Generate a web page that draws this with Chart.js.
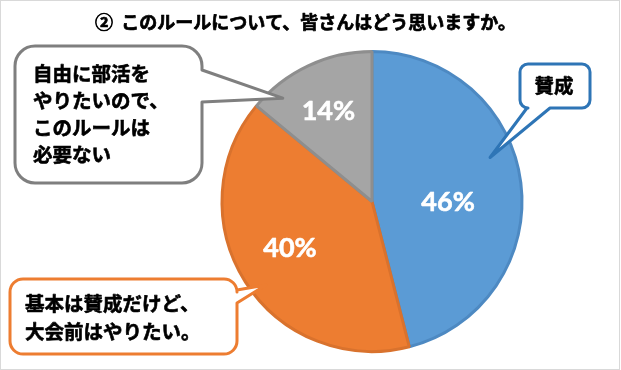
<!DOCTYPE html>
<html lang="ja">
<head>
<meta charset="utf-8">
<script src="https://cdn.jsdelivr.net/npm/chart.js@4"></script>
<style>
    html, body { margin: 0; padding: 0; background: #fff; }
    #wrap { width: 621px; height: 370px; }
</style>
</head>
<body>
<div id="wrap"><canvas id="pieChart" width="621" height="370"></canvas></div>
<script>
// データ
const title = '②  このルールについて、皆さんはどう思いますか。';
const categories = ['賛成', '基本は賛成だけど、大会前はやりたい。', '自由に部活をやりたいので、このルールは必要ない'];
const values = [46, 40, 14];
const calloutLines = [
    ['賛成'],
    ['基本は賛成だけど、', '大会前はやりたい。'],
    ['自由に部活を', 'やりたいので、', 'このルールは', '必要ない']
];

const fillColors = ['#5b9bd5', '#ed7d31', '#a5a5a5'];
const borderColors = ['#4d89c2', '#d9722d', '#8e8e8e'];
const jpFont = '"Noto Sans CJK JP", "Noto Sans", sans-serif';

// 吹き出しの配置（見た目用）
const bubbles = [
    { x: 520, y: 64, w: 70, h: 44, r: 8, color: '#2e75b6', side: 'bottom', a: 550, b: 527, tip: [0.42, 0.84], tx: 554, ty: 86, lh: 0, align: 'center' },
    { x: 10, y: 279, w: 227, h: 75, r: 13, color: '#ed7d31', side: 'right', a: 290, b: 303, tip: [0.46, 0.9], tx: 25, ty: 303.5, lh: 28, align: 'left' },
    { x: 15, y: 46, w: 187, h: 137, r: 20, color: '#7f7f7f', side: 'right', a: 70, b: 102, tip: [0.19, 0.91], tx: 33, ty: 73.5, lh: 27, align: 'left' }
];
// パーセント表示の位置（扇形内の角度比率, 半径比率）
const labelPos = [[0.548, 0.507], [0.518, 0.63], [0.49, 0.67]];

function arcPoint(arc, f, rf) {
    const ang = arc.startAngle + f * (arc.endAngle - arc.startAngle);
    const r = arc.outerRadius * rf;
    return [arc.x + Math.cos(ang) * r, arc.y + Math.sin(ang) * r];
}

function bubblePath(ctx, b, tip) {
    const { x, y, w, h, r } = b;
    ctx.beginPath();
    ctx.moveTo(x + r, y);
    ctx.lineTo(x + w - r, y);
    ctx.arcTo(x + w, y, x + w, y + r, r);
    if (b.side === 'right') {
        ctx.lineTo(x + w, b.a);
        ctx.lineTo(tip[0], tip[1]);
        ctx.lineTo(x + w, b.b);
    }
    ctx.lineTo(x + w, y + h - r);
    ctx.arcTo(x + w, y + h, x + w - r, y + h, r);
    if (b.side === 'bottom') {
        ctx.lineTo(b.a, y + h);
        ctx.lineTo(tip[0], tip[1]);
        ctx.lineTo(b.b, y + h);
    }
    ctx.lineTo(x + r, y + h);
    ctx.arcTo(x, y + h, x, y + h - r, r);
    ctx.lineTo(x, y + r);
    ctx.arcTo(x, y, x + r, y, r);
    ctx.closePath();
}

// 太めの文字
function heavyText(ctx, text, x, y, w) {
    ctx.lineWidth = w;
    ctx.strokeStyle = ctx.fillStyle;
    ctx.strokeText(text, x, y);
    ctx.fillText(text, x, y);
}

const decoPlugin = {
    id: 'deco',
    beforeDraw(chart) {
        const ctx = chart.ctx;
        ctx.save();
        ctx.fillStyle = '#fff';
        ctx.fillRect(0, 0, chart.width, chart.height);
        ctx.restore();
    },
    afterDraw(chart) {
        const ctx = chart.ctx;
        const arcs = chart.getDatasetMeta(0).data;
        ctx.save();

        // 枠線
        ctx.strokeStyle = '#d9d9d9';
        ctx.lineWidth = 1;
        ctx.strokeRect(0.5, 0.5, 619, 369);

        // タイトル
        ctx.fillStyle = '#000';
        ctx.font = 'bold 18px ' + jpFont;
        ctx.textAlign = 'center';
        ctx.textBaseline = 'middle';
        ctx.lineJoin = 'round';
        heavyText(ctx, title, 305.5, 22, 0.7);

        // パーセント
        ctx.fillStyle = '#fff';
        ctx.font = 'bold 27px Lato, "Open Sans", sans-serif';
        arcs.forEach((arc, i) => {
            const p = arcPoint(arc, labelPos[i][0], labelPos[i][1]);
            heavyText(ctx, values[i] + '%', p[0], p[1], 0.6);
        });

        // 吹き出し
        bubbles.forEach((b, i) => {
            const tip = arcPoint(arcs[i], b.tip[0], b.tip[1]);
            bubblePath(ctx, b, tip);
            ctx.fillStyle = '#fff';
            ctx.fill();
            ctx.lineWidth = 3;
            ctx.lineJoin = 'round';
            ctx.strokeStyle = b.color;
            ctx.stroke();

            ctx.fillStyle = '#000';
            ctx.font = 'bold 19.5px ' + jpFont;
            ctx.textAlign = b.align;
            calloutLines[i].forEach((line, j) => {
                heavyText(ctx, line, b.tx, b.ty + j * b.lh, 0.6);
            });
        });
        ctx.restore();
    }
};

const ctx = document.getElementById('pieChart').getContext('2d');
const myChart = new Chart(ctx, {
    type: 'pie',
    data: {
        labels: categories,
        datasets: [{
            data: values,
            backgroundColor: fillColors,
            borderColor: borderColors,
            borderWidth: 3
        }]
    },
    options: {
        responsive: false,
        animation: false,
        layout: { padding: { top: 50, bottom: 17, left: 200, right: 77 } },
        plugins: {
            legend: { display: false },
            tooltip: { enabled: false },
            title: { display: false }
        }
    },
    plugins: [decoPlugin]
});
</script>
</body>
</html>
